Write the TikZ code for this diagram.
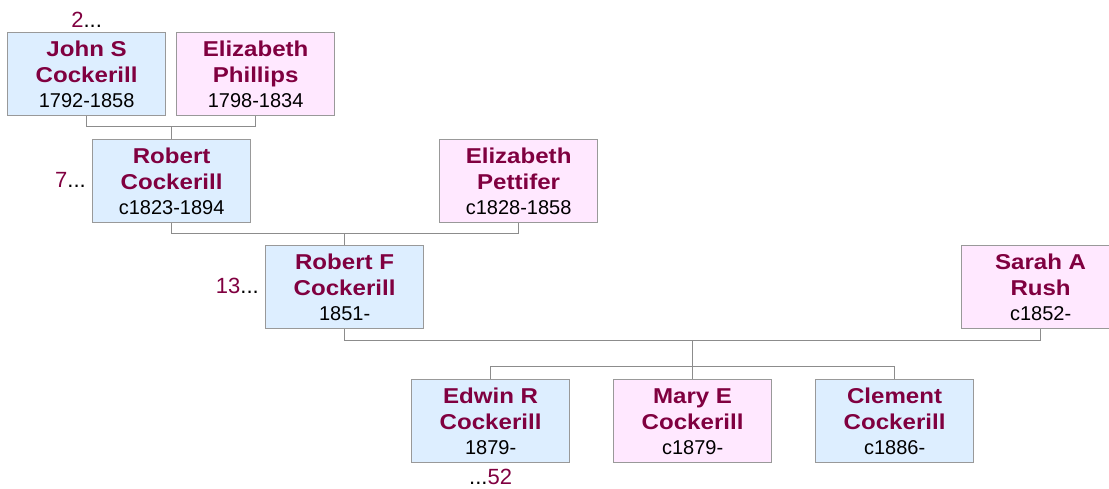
\documentclass[tikz,border=0pt]{standalone}
\usepackage{fontspec}
\setmainfont{Liberation Sans}
\newfontface\namefont[FakeStretch=1.12]{Liberation Sans Bold}
\usetikzlibrary{calc}
\definecolor{boxblue}{HTML}{DDEEFF}
\definecolor{boxpink}{HTML}{FFE8FF}
\definecolor{boxline}{HTML}{999999}
\definecolor{linkline}{HTML}{8C8C8C}
\definecolor{namecol}{HTML}{800040}
\tikzset{
  person/.style={draw=boxline, line width=1.2pt, anchor=north west, minimum width=158pt, minimum height=83pt, inner sep=0pt},
  male/.style={person, fill=boxblue},
  female/.style={person, fill=boxpink},
  nametext/.style={anchor=base, inner sep=0pt, text=namecol, font=\namefont\fontsize{21.5}{21.5}\selectfont},
  yeartext/.style={anchor=base, inner sep=0pt, text=black, font=\fontsize{20}{20}\selectfont},
  numtext/.style={inner sep=0pt, font=\fontsize{22}{22}\selectfont},
  link/.style={draw=linkline, line width=1pt}
}
\newcommand{\personbox}[7]{%
  \node[#4] (#1) at (#2,#3) {};
  \node[nametext] (#1-a) at ([yshift=-24.7pt]#1.north) {#5};
  \node[nametext] (#1-b) at ([yshift=-50.7pt]#1.north) {#6};
  \node[yeartext] (#1-c) at ([yshift=-75.3pt]#1.north) {#7};
}
\begin{document}
\begin{tikzpicture}[x=1pt,y=-1pt]
\useasboundingbox (0,0) rectangle (1109,488);
\clip (0,0) rectangle (1109,488);
\personbox{john}{7}{32}{male}{John S}{Cockerill}{1792-1858}
\personbox{phillips}{176}{32}{female}{Elizabeth}{Phillips}{1798-1834}
\personbox{robert}{92}{139}{male}{Robert}{Cockerill}{c1823-1894}
\personbox{pettifer}{439}{139}{female}{Elizabeth}{Pettifer}{c1828-1858}
\personbox{robertf}{265}{245}{male}{Robert F}{Cockerill}{1851-}
\personbox{sarah}{961}{245}{female}{Sarah A}{Rush}{c1852-}
\personbox{edwin}{411}{379}{male}{Edwin R}{Cockerill}{1879-}
\personbox{mary}{613}{379}{female}{Mary E}{Cockerill}{c1879-}
\personbox{clement}{815}{379}{male}{Clement}{Cockerill}{c1886-}
% connectors
\draw[link] (john.south) -- ++(0,10) coordinate (j1) -| (phillips.south);
\draw[link] (robert.north) -- (robert.north |- j1);
\draw[link] (robert.south) -- ++(0,10) coordinate (r1) -| (pettifer.south);
\draw[link] (robertf.north) -- (robertf.north |- r1);
\draw[link] (robertf.south) -- ++(0,11) coordinate (f1) -| (sarah.south);
\draw[link] (mary.north) -- (mary.north |- f1);
\draw[link] (edwin.north) -- ++(0,-13) -| (clement.north);
% reference numbers
\node[numtext, anchor=base] (n2) at ([yshift=5pt]john.north) {\textcolor{namecol}{2}...};
\node[numtext, anchor=base east] (n7) at ([xshift=-6pt,yshift=-6pt]robert.west) {\textcolor{namecol}{7}...};
\node[numtext, anchor=base east] (n13) at ([xshift=-6pt,yshift=-6pt]robertf.west) {\textcolor{namecol}{13}...};
\node[numtext, anchor=base] (n52) at ([yshift=-21pt]edwin.south) {...\textcolor{namecol}{52}};
\end{tikzpicture}
\end{document}
